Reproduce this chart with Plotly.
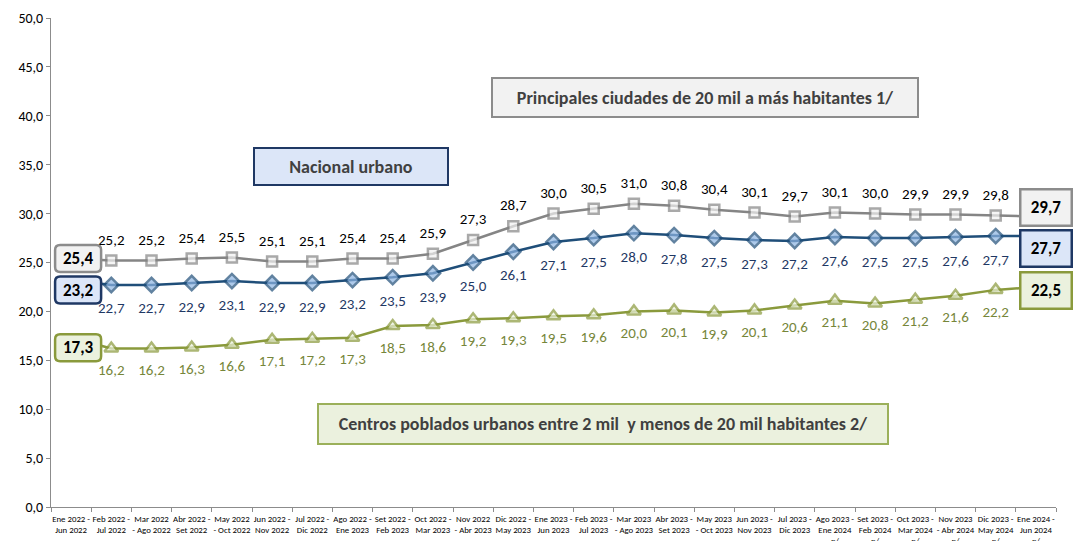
import plotly.graph_objects as go

categories = [
    "Ene 2022 -<br>Jun 2022", "Feb 2022 -<br>Jul 2022", "Mar 2022<br>- Ago 2022",
    "Abr 2022 -<br>Set 2022", "May 2022<br>- Oct 2022", "Jun 2022 -<br>Nov 2022",
    "Jul 2022 -<br>Dic 2022", "Ago 2022 -<br>Ene 2023", "Set 2022 -<br>Feb 2023",
    "Oct 2022 -<br>Mar 2023", "Nov 2022<br>- Abr 2023", "Dic 2022 -<br>May 2023",
    "Ene 2023 -<br>Jun 2023", "Feb 2023 -<br>Jul 2023", "Mar 2023<br>- Ago 2023",
    "Abr 2023 -<br>Set 2023", "May 2023<br>- Oct 2023", "Jun 2023 -<br>Nov 2023",
    "Jul 2023 -<br>Dic 2023", "Ago 2023 -<br>Ene 2024<br>p/", "Set 2023 -<br>Feb 2024<br>p/",
    "Oct 2023 -<br>Mar 2024<br>p/", "Nov 2023<br>- Abr 2024<br>p/", "Dic 2023 -<br>May 2024<br>p/",
    "Ene 2024 -<br>Jun 2024<br>p/",
]

principales = [25.4, 25.2, 25.2, 25.4, 25.5, 25.1, 25.1, 25.4, 25.4, 25.9, 27.3, 28.7,
               30.0, 30.5, 31.0, 30.8, 30.4, 30.1, 29.7, 30.1, 30.0, 29.9, 29.9, 29.8, 29.7]
nacional = [23.2, 22.7, 22.7, 22.9, 23.1, 22.9, 22.9, 23.2, 23.5, 23.9, 25.0, 26.1,
            27.1, 27.5, 28.0, 27.8, 27.5, 27.3, 27.2, 27.6, 27.5, 27.5, 27.6, 27.7, 27.7]
centros = [17.3, 16.2, 16.2, 16.3, 16.6, 17.1, 17.2, 17.3, 18.5, 18.6, 19.2, 19.3,
           19.5, 19.6, 20.0, 20.1, 19.9, 20.1, 20.6, 21.1, 20.8, 21.2, 21.6, 22.2, 22.5]

series_names = ["Principales ciudades de 20 mil a más habitantes 1/",
                "Nacional urbano",
                "Centros poblados urbanos entre 2 mil  y menos de 20 mil habitantes 2/"]

FONT = "Carlito, Calibri, 'Liberation Sans Narrow', 'Liberation Sans', sans-serif"


def fmt(v):
    return f"{v:.1f}".replace(".", ",")


def inner_labels(vals):
    return [""] + [fmt(v) for v in vals[1:-1]] + [""]


def rounded_rect(cx, cy, w, h, r):
    x0, x1 = cx - w / 2, cx + w / 2
    y0, y1 = cy - h / 2, cy + h / 2
    return (f"M {x0 + r},{y0} L {x1 - r},{y0} Q {x1},{y0} {x1},{y0 + r} "
            f"L {x1},{y1 - r} Q {x1},{y1} {x1 - r},{y1} L {x0 + r},{y1} "
            f"Q {x0},{y1} {x0},{y1 - r} L {x0},{y0 + r} Q {x0},{y0} {x0 + r},{y0} Z")


fig = go.Figure()

styles = [
    dict(vals=principales, line="#858585", fill="#f2f2f2", symbol="square", size=10,
         pos="top center", tcolor="#000000", lsize=18),
    dict(vals=nacional, line="#1f4e79", fill="#8db4e2", symbol="diamond", size=11,
         pos="bottom center", tcolor="#1f3864", lsize=26),
    dict(vals=centros, line="#8a9a3c", fill="#ebf1de", symbol="triangle-up", size=12,
         pos="bottom center", tcolor="#76863a", lsize=23),
]

n = len(categories)
for name, st in zip(series_names, styles):
    # first/last points are shown by their value boxes instead of a marker
    msizes = [0] + [st["size"]] * (n - 2) + [0]
    fig.add_trace(go.Scatter(
        x=categories, y=st["vals"], name=name, mode="lines+markers",
        line=dict(color=st["line"], width=2.5),
        marker=dict(symbol=st["symbol"], size=msizes, color=st["fill"],
                    line=dict(color=st["line"], width=2.5)),
        showlegend=False,
    ))
    # data labels (transparent marker used only to space the text from the point)
    fig.add_trace(go.Scatter(
        x=categories, y=st["vals"], mode="markers+text",
        marker=dict(size=st["lsize"], color="rgba(0,0,0,0)"),
        text=inner_labels(st["vals"]), textposition=st["pos"],
        textfont=dict(family=FONT, size=15, color=st["tcolor"]),
        cliponaxis=False, showlegend=False, hoverinfo="skip",
    ))

# value boxes at first and last points
box_styles = [("#f2f2f2", "#8c8c8c"), ("#dce6f8", "#1f3864"), ("#ebf1de", "#8a9a3c")]
first_dy = [0, -10, -10]
last_dy = [9.5, -12.5, -4]
for i, st in enumerate(styles):
    bg, bd = box_styles[i]
    # first point: rounded box anchored on the data point (inside the plot area)
    fig.add_shape(type="path", xref="x", yref="y", xsizemode="pixel", ysizemode="pixel",
                  xanchor=0, yanchor=st["vals"][0],
                  path=rounded_rect(7, first_dy[i], 46, 27, 5),
                  fillcolor=bg, line=dict(color=bd, width=2.5), layer="above")
    fig.add_annotation(x=categories[0], y=st["vals"][0],
                       text=f"<b>{fmt(st['vals'][0])}</b>",
                       showarrow=False, xshift=7, yshift=first_dy[i],
                       xanchor="center", yanchor="middle",
                       font=dict(family=FONT, size=17, color="#000000"))
    # last point: box reaches past the plot area, so use a bordered annotation
    fig.add_annotation(x=categories[-1], y=st["vals"][-1],
                       text=f"<b>{fmt(st['vals'][-1])}</b>",
                       showarrow=False, xshift=10, yshift=last_dy[i],
                       xanchor="center", yanchor="middle",
                       font=dict(family=FONT, size=17, color="#000000"),
                       bgcolor=bg, bordercolor=bd, borderwidth=2.5, width=47, height=32,
                       borderpad=1)

# series name boxes (paper coords)
name_boxes = [
    (series_names[0], 0.651, 0.838, "#f2f2f2", "#8c8c8c", 422, 35),
    (series_names[1], 0.2985, 0.697, "#dce6f8", "#1f3864", 190, 33),
    (series_names[2], 0.549, 0.169, "#ebf1de", "#9bb05a", 566, 36),
]
for txt, px, py, bg, bd, w, h in name_boxes:
    fig.add_annotation(xref="paper", yref="paper", x=px, y=py, text=f"<b>{txt}</b>",
                       xanchor="center", yanchor="middle",
                       showarrow=False, font=dict(family=FONT, size=18, color="#404040"),
                       bgcolor=bg, bordercolor=bd, borderwidth=2, width=w, height=h)

fig.update_layout(
    width=1080, height=541,
    margin=dict(l=51, r=24, t=18, b=34),
    paper_bgcolor="white", plot_bgcolor="white",
    separators=",.",
    font=dict(family=FONT, color="#000000"),
    hovermode=False,
    xaxis=dict(type="category", showgrid=False, showline=True, linecolor="#8c8c8c",
               linewidth=1, ticks="outside", ticklen=4, tickcolor="#8c8c8c",
               tickson="boundaries", tickangle=0, automargin=False, ticklabelstandoff=3,
               tickfont=dict(family=FONT, size=8.8, color="#000000"),
               range=[-0.5, n - 0.5]),
    yaxis=dict(range=[0, 50], dtick=5, tickformat=".1f", showgrid=False, zeroline=False,
               automargin=False,
               showline=True, linecolor="#8c8c8c", linewidth=1, ticks="outside", ticklen=4,
               tickcolor="#8c8c8c", tickfont=dict(family=FONT, size=14, color="#000000")),
)

fig.write_html("out.html", config={"displayModeBar": False},
               post_script="document.body.style.margin='0';document.body.style.overflow='hidden';")
